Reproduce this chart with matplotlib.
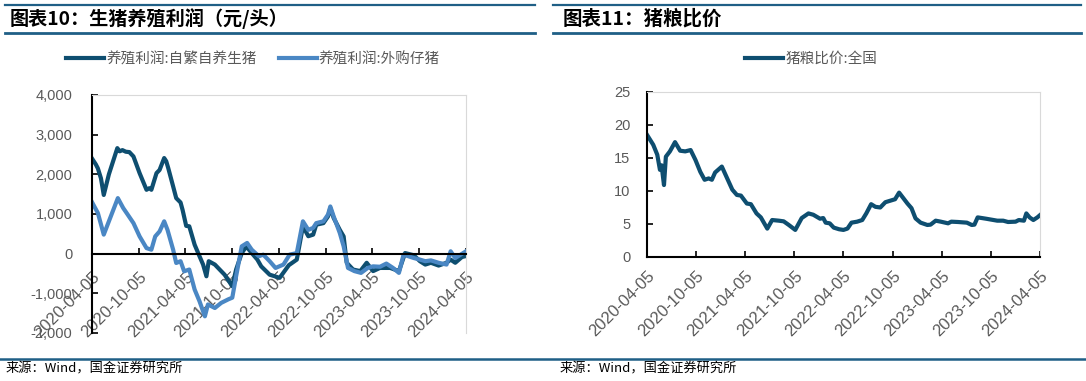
import pandas as pd
import matplotlib
matplotlib.use("Agg")
import matplotlib.pyplot as plt
import matplotlib.dates as mdates
from matplotlib.lines import Line2D
from matplotlib.ticker import FuncFormatter

plt.rcParams["font.family"] = ["Liberation Sans", "Noto Sans CJK SC", "DejaVu Sans"]

# 养殖利润:自繁自养生猪 (元/头)
self_dates = [
    "2020-04-05", "2020-04-20", "2020-04-28", "2020-05-10", "2020-05-21", "2020-06-10",
    "2020-07-13", "2020-07-22", "2020-08-02", "2020-08-15", "2020-08-29", "2020-09-14",
    "2020-10-08", "2020-11-04", "2020-11-15", "2020-11-23", "2020-12-13", "2020-12-25",
    "2021-01-12", "2021-01-20", "2021-01-28", "2021-02-16", "2021-02-28", "2021-03-17",
    "2021-03-25", "2021-04-08", "2021-04-20", "2021-05-11", "2021-05-30", "2021-06-13",
    "2021-06-26", "2021-07-05", "2021-07-29", "2021-09-05", "2021-10-05", "2021-10-20",
    "2021-11-11", "2021-11-29", "2021-12-20", "2022-01-11", "2022-01-26", "2022-02-28",
    "2022-03-20", "2022-04-08", "2022-05-14", "2022-06-14", "2022-07-08", "2022-07-29",
    "2022-08-17", "2022-08-29", "2022-09-26", "2022-10-14", "2022-10-23", "2022-11-05",
    "2022-11-29", "2022-12-14", "2022-12-26", "2023-01-20", "2023-02-17", "2023-03-14",
    "2023-04-08", "2023-05-05", "2023-06-14", "2023-07-18", "2023-08-11", "2023-09-14",
    "2023-10-08", "2023-10-29", "2023-11-20", "2023-12-20", "2024-01-20", "2024-02-05",
    "2024-02-23", "2024-03-20", "2024-04-05",
]
self_profit = [
    2400, 2250, 2150, 1900, 1480, 2000,
    2660, 2580, 2610, 2570, 2560, 2450,
    2030, 1610, 1650, 1610, 2030, 2110,
    2410, 2330, 2155, 1695, 1400, 1290,
    1100, 700, 690, 225, -65, -275,
    -570, -190, -275, -530, -820, -400,
    15, 180, 15, -150, -320, -530,
    -570, -610, -290, -150, 690, 440,
    480, 730, 770, 940, 1150, 900,
    600, 435, -230, -400, -440, -230,
    -440, -360, -360, -440, 15, -40,
    -190, -275, -230, -300, -230, -150,
    -230, -85, -60,
]

# 养殖利润:外购仔猪 (元/头)
buy_dates = [
    "2020-04-05", "2020-04-28", "2020-05-21", "2020-07-15", "2020-08-05", "2020-08-23",
    "2020-09-14", "2020-10-08", "2020-11-04", "2020-11-23", "2020-12-08", "2020-12-25",
    "2021-01-12", "2021-01-25", "2021-02-16", "2021-02-28", "2021-03-17", "2021-03-31",
    "2021-04-20", "2021-05-11", "2021-05-30", "2021-06-20", "2021-07-02", "2021-07-29",
    "2021-08-23", "2021-09-20", "2021-10-05", "2021-10-20", "2021-11-11", "2021-12-02",
    "2021-12-20", "2022-01-17", "2022-02-03", "2022-02-28", "2022-03-23", "2022-04-23",
    "2022-05-17", "2022-06-14", "2022-07-08", "2022-07-29", "2022-08-17", "2022-08-29",
    "2022-09-26", "2022-10-14", "2022-10-23", "2022-11-05", "2022-11-29", "2022-12-14",
    "2022-12-31", "2023-01-25", "2023-02-20", "2023-03-18", "2023-04-08", "2023-05-05",
    "2023-05-30", "2023-06-25", "2023-07-18", "2023-08-05", "2023-09-14", "2023-10-08",
    "2023-10-29", "2023-11-20", "2023-12-20", "2024-01-20", "2024-02-05", "2024-02-23",
    "2024-03-15", "2024-04-05",
]
buy_profit = [
    1300, 1025, 480, 1400, 1150, 980,
    770, 435, 140, 100, 435, 560,
    815, 600, 100, -235, -190, -445,
    -400, -905, -1200, -1580, -1280, -1370,
    -1240, -1150, -1110, -570, 185, 270,
    100, -65, -25, -190, -360, -275,
    -25, 15, 815, 600, 650, 770,
    815, 985, 1190, 940, 520, 185,
    -360, -440, -485, -360, -320, -330,
    -250, -360, -485, -25, -110, -150,
    -190, -170, -230, -275, 60, -110,
    -25, 60,
]

# 猪粮比价:全国
ratio_dates = [
    "2020-04-05", "2020-04-28", "2020-05-13", "2020-05-23", "2020-05-29", "2020-06-07",
    "2020-06-14", "2020-06-29", "2020-07-18", "2020-08-06", "2020-08-25", "2020-09-14",
    "2020-10-02", "2020-10-20", "2020-11-05", "2020-11-20", "2020-12-02", "2020-12-14",
    "2021-01-08", "2021-01-28", "2021-02-16", "2021-03-05", "2021-03-20", "2021-04-11",
    "2021-04-26", "2021-05-17", "2021-06-02", "2021-06-26", "2021-07-14", "2021-08-08",
    "2021-08-26", "2021-09-14", "2021-10-08", "2021-11-01", "2021-11-26", "2021-12-14",
    "2022-01-08", "2022-01-20", "2022-01-29", "2022-02-13", "2022-02-28", "2022-03-20",
    "2022-04-05", "2022-04-20", "2022-05-05", "2022-05-26", "2022-06-14", "2022-06-29",
    "2022-07-17", "2022-08-02", "2022-08-20", "2022-09-08", "2022-10-02", "2022-10-14",
    "2022-10-29", "2022-11-14", "2022-11-29", "2022-12-14", "2022-12-29", "2023-01-17",
    "2023-02-11", "2023-02-23", "2023-03-14", "2023-04-02", "2023-04-29", "2023-05-11",
    "2023-06-05", "2023-07-08", "2023-07-26", "2023-08-05", "2023-08-17", "2023-09-17",
    "2023-10-29", "2023-11-20", "2023-12-08", "2024-01-05", "2024-01-17", "2024-02-05",
    "2024-02-14", "2024-02-26", "2024-03-11", "2024-03-26", "2024-04-05",
]
ratio_values = [
    18.5, 17.0, 15.5, 13.2, 13.9, 10.9,
    15.2, 16.0, 17.4, 16.1, 16.0, 16.2,
    14.7, 12.9, 11.7, 11.9, 11.7, 12.8,
    13.7, 11.9, 10.2, 9.4, 9.3, 8.1,
    8.0, 6.6, 6.0, 4.3, 5.6, 5.5,
    5.4, 4.85, 4.1, 5.9, 6.6, 6.4,
    5.8, 5.9, 5.2, 5.1, 4.45, 4.2,
    4.1, 4.3, 5.2, 5.35, 5.6, 6.6,
    8.0, 7.6, 7.5, 8.3, 8.6, 8.75,
    9.75, 8.9, 8.1, 7.4, 5.85, 5.2,
    4.85, 4.9, 5.5, 5.35, 5.1, 5.35,
    5.3, 5.2, 4.85, 4.9, 6.0, 5.8,
    5.5, 5.5, 5.3, 5.35, 5.6, 5.5,
    6.6, 6.0, 5.6, 6.0, 6.35,
]

tick_dates = ["2020-04-05", "2020-10-05", "2021-04-05", "2021-10-05", "2022-04-05",
              "2022-10-05", "2023-04-05", "2023-10-05", "2024-04-05"]

DARK = "#0E4E70"
LIGHT = "#4A87C4"
HEAD = "#1F5F86"
GRAY = "#595959"
CJK = ["Noto Sans CJK SC", "DejaVu Sans"]


def style_axes(ax, ticks, xpad, ypad):
    for side in ["top", "right"]:
        ax.spines[side].set_color("#D9D9D9")
        ax.spines[side].set_linewidth(0.8)
    ax.spines["left"].set_color("black")
    ax.spines["left"].set_linewidth(1.5)
    ax.spines["bottom"].set_color("black")
    ax.spines["bottom"].set_linewidth(1.5)
    ax.set_xlim(ticks[0], ticks[-1])
    ax.set_xticks(ticks)
    ax.xaxis.set_major_formatter(mdates.DateFormatter("%Y-%m-%d"))
    ax.tick_params(axis="both", direction="in", length=4, width=1.2, colors="black",
                   labelcolor=GRAY)
    ax.tick_params(axis="y", labelsize=10.5, pad=ypad)
    ax.tick_params(axis="x", labelsize=12, pad=xpad)
    for lab in ax.get_xticklabels():
        lab.set_rotation(45)
        lab.set_ha("right")
        lab.set_va("top")
        lab.set_rotation_mode("anchor")


def main():
    fig = plt.figure(figsize=(10.86, 3.81), dpi=100)
    ticks = pd.to_datetime(tick_dates)

    # header lines and titles
    for x0, x1 in [(0.005, 0.493), (0.509, 0.995)]:
        fig.add_artist(Line2D([x0, x1], [0.987, 0.987], color=HEAD, lw=1.6))
        fig.add_artist(Line2D([x0, x1], [0.913, 0.913], color=HEAD, lw=2.0))
    fig.add_artist(Line2D([0.0, 1.0], [0.058, 0.058], color=HEAD, lw=1.8))
    fig.text(0.009, 0.952, "图表10：生猪养殖利润（元/头）", family=CJK, fontsize=13.8,
             fontweight="bold", va="center", ha="left")
    fig.text(0.518, 0.952, "图表11：猪粮比价", family=CJK, fontsize=14,
             fontweight="bold", va="center", ha="left")
    fig.text(0.005, 0.031, "来源：Wind，国金证券研究所", family=CJK, fontsize=9.5,
             va="center", ha="left")
    fig.text(0.515, 0.031, "来源：Wind，国金证券研究所", family=CJK, fontsize=9.5,
             va="center", ha="left")

    # left chart
    ax1 = fig.add_axes([0.0847, 0.126, 0.3444, 0.6247])
    ax1.plot(pd.to_datetime(self_dates), self_profit, color=DARK, lw=3.0,
             label="养殖利润:自繁自养生猪", solid_joinstyle="round")
    ax1.plot(pd.to_datetime(buy_dates), buy_profit, color=LIGHT, lw=3.0,
             label="养殖利润:外购仔猪", solid_joinstyle="round")
    ax1.set_ylim(-2000, 4000)
    ax1.set_yticks(range(-2000, 4001, 1000))
    ax1.yaxis.set_major_formatter(FuncFormatter(lambda v, p: f"{v:,.0f}"))
    ax1.spines["bottom"].set_position(("data", 0))
    style_axes(ax1, ticks, 11, 14)
    ax1.legend(loc="center", bbox_to_anchor=(0.233, 0.845), bbox_transform=fig.transFigure,
               ncol=2, frameon=False, prop={"family": CJK, "size": 10.5},
               labelcolor=GRAY, handlelength=2.6, handletextpad=0.15, columnspacing=1.5)

    # right chart
    ax2 = fig.add_axes([0.5958, 0.3255, 0.3619, 0.4331])
    ax2.plot(pd.to_datetime(ratio_dates), ratio_values, color=DARK, lw=3.0,
             label="猪粮比价:全国", solid_joinstyle="round")
    ax2.set_ylim(0, 25)
    ax2.set_yticks(range(0, 26, 5))
    style_axes(ax2, ticks, 8, 12)
    ax2.legend(loc="center", bbox_to_anchor=(0.747, 0.845), bbox_transform=fig.transFigure,
               frameon=False, prop={"family": CJK, "size": 10.5},
               labelcolor=GRAY, handlelength=2.6, handletextpad=0.15)

    fig.savefig("out.png", dpi=100)


if __name__ == "__main__":
    main()
